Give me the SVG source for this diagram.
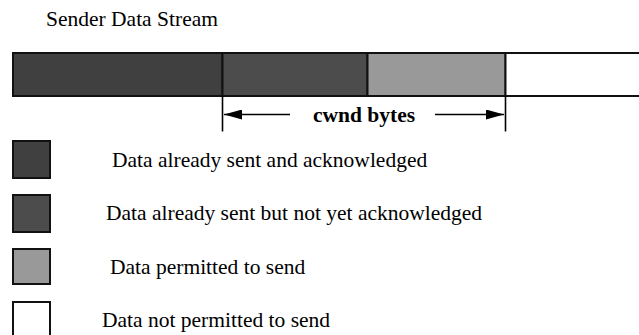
<svg xmlns="http://www.w3.org/2000/svg" width="639" height="335" viewBox="0 0 639 335">
<defs>
<style>
.t{font-family:"Liberation Serif","Times New Roman",serif;font-size:21.5px;fill:#000}
.b{font-weight:bold}
.seg{stroke:#111;stroke-width:2}
.ln{stroke:#000;stroke-width:1.6;fill:none}
.c1{fill:#404040}.c2{fill:#4c4c4c}.c3{fill:#999999}.c4{fill:#ffffff}
</style>
<marker id="ah" viewBox="0 0 18 10" refX="18" refY="5" markerWidth="18" markerHeight="10" markerUnits="userSpaceOnUse" orient="auto">
<path d="M0,0 L18,5 L0,10 Z" fill="#000"/>
</marker>
</defs>
<rect width="639" height="335" fill="#fff"/>
<text class="t" x="46" y="26">Sender Data Stream</text>
<g id="stream">
<rect id="seg-acked" class="seg c1" x="13" y="53" width="209.5" height="43"/>
<rect id="seg-sent" class="seg c2" x="222.5" y="53" width="145" height="43"/>
<rect id="seg-permitted" class="seg c3" x="367.5" y="53" width="138" height="43"/>
<rect id="seg-notpermitted" class="seg c4" x="505.5" y="53" width="140" height="43"/>
</g>
<g id="connectors">
<line class="ln" x1="222.5" y1="96" x2="222.5" y2="131.5"/>
<line class="ln" x1="505.5" y1="96" x2="505.5" y2="131.5"/>
<line class="ln" x1="290" y1="114.5" x2="224" y2="114.5" marker-end="url(#ah)"/>
<line class="ln" x1="435" y1="114.5" x2="504" y2="114.5" marker-end="url(#ah)"/>
</g>
<text class="t b" x="313" y="122">cwnd bytes</text>
<g id="legend-acked">
<rect class="seg c1" x="13" y="141" width="37" height="37"/>
<text class="t" x="112" y="167">Data already sent and acknowledged</text>
</g>
<g id="legend-sent">
<rect class="seg c2" x="13" y="195" width="37" height="37"/>
<text class="t" x="106" y="220">Data already sent but not yet acknowledged</text>
</g>
<g id="legend-permitted">
<rect class="seg c3" x="13" y="249" width="37" height="35"/>
<text class="t" x="110" y="274">Data permitted to send</text>
</g>
<g id="legend-notpermitted">
<rect class="seg c4" x="13" y="302" width="37" height="37"/>
<text class="t" x="102" y="327">Data not permitted to send</text>
</g>
</svg>
